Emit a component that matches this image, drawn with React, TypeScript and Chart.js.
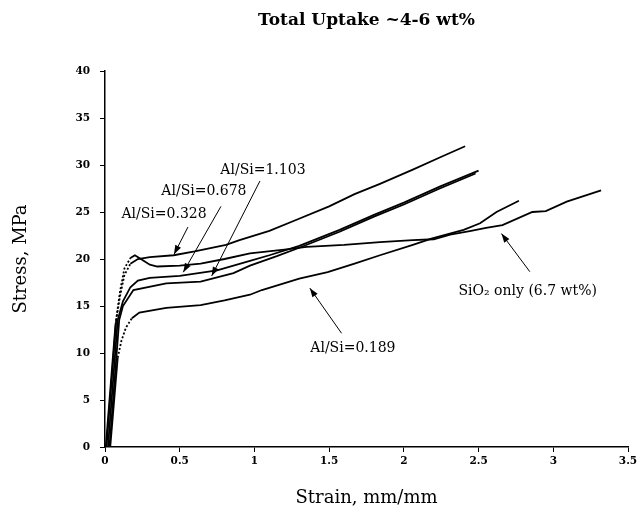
import React, { useEffect, useRef } from "react";
import { Chart, registerables } from "chart.js";

Chart.register(...registerables);

// ---- data ----
const titleText = "Total Uptake ~4-6 wt%";
const xAxisTitle = "Strain, mm/mm";
const yAxisTitle = "Stress, MPa";

const xTickValues = [0, 0.5, 1, 1.5, 2, 2.5, 3, 3.5];
const yTickValues = [0, 5, 10, 15, 20, 25, 30, 35, 40];

const seriesNames = ["Al/Si=0.328", "Al/Si=0.678", "Al/Si=1.103", "Al/Si=0.189", "SiO₂ only (6.7 wt%)"];

const strainA0328 = [0.01, 0.075, 0.1, 0.13, 0.17, 0.22, 0.3, 0.46, 0.6, 0.81, 0.9, 1.1, 1.27, 1.5, 1.67, 1.84, 2.06, 2.24, 2.41];
const stressA0328 = [0, 13.5, 16.0, 18.3, 19.5, 20.0, 20.2, 20.4, 20.8, 21.5, 22.0, 23.0, 24.1, 25.6, 26.9, 28.0, 29.5, 30.8, 32.0];

const strainA0678 = [0.02, 0.085, 0.12, 0.17, 0.22, 0.3, 0.5, 0.75, 0.97, 1.1, 1.3, 1.57, 1.8, 2.0, 2.24, 2.5];
const stressA0678 = [0, 13.5, 15.5, 17.0, 17.7, 18.0, 18.2, 18.8, 19.8, 20.4, 21.4, 23.1, 24.7, 26.0, 27.7, 29.4];

const strainA1103 = [0.03, 0.095, 0.12, 0.19, 0.41, 0.64, 0.86, 0.97, 1.15, 1.3, 1.57, 1.8, 2.0, 2.24, 2.48];
const stressA1103 = [0, 13.5, 15.0, 16.7, 17.4, 17.6, 18.5, 19.3, 20.3, 21.2, 22.9, 24.5, 25.8, 27.5, 29.1];

const strainA0189 = [0.035, 0.085, 0.11, 0.14, 0.18, 0.23, 0.41, 0.64, 0.8, 0.97, 1.05, 1.3, 1.49, 1.67, 1.84, 2.06, 2.19, 2.4, 2.51, 2.62, 2.77];
const stressA0189 = [0, 9.5, 11.3, 12.7, 13.7, 14.3, 14.8, 15.1, 15.6, 16.2, 16.7, 17.9, 18.6, 19.5, 20.4, 21.5, 22.2, 23.1, 23.8, 25.0, 26.2];

const strainSiO2 = [0.005, 0.07, 0.1, 0.13, 0.17, 0.2, 0.24, 0.3, 0.35, 0.5, 0.64, 0.8, 0.97, 1.2, 1.35, 1.6, 1.84, 2.06, 2.2, 2.31, 2.45, 2.55, 2.66, 2.86, 2.95, 3.09, 3.32];
const stressSiO2 = [0, 13.0, 16.5, 19.0, 20.1, 20.4, 20.0, 19.4, 19.2, 19.3, 19.5, 20.0, 20.6, 21.0, 21.3, 21.5, 21.8, 22.0, 22.1, 22.6, 23.0, 23.3, 23.6, 25.0, 25.1, 26.1, 27.3];

// ---- annotations (text centre, arrow start, arrow tip in data units) ----
const notes = [
  { text: seriesNames[2], tx: 1.057, ty: 29.4, ax: 1.037, ay: 28.3, bx: 0.714, by: 18.2 },
  { text: seriesNames[1], tx: 0.662, ty: 27.2, ax: 0.776, ay: 25.6, bx: 0.524, by: 18.6 },
  { text: seriesNames[0], tx: 0.395, ty: 24.7, ax: 0.555, ay: 23.4, bx: 0.462, by: 20.5 },
  { text: seriesNames[3], tx: 1.659, ty: 10.5, ax: 1.583, ay: 12.1, bx: 1.371, by: 16.9 },
  { text: seriesNames[4], tx: 2.829, ty: 16.6, ax: 2.843, ay: 18.65, bx: 2.653, by: 22.7 },
];

const SERIF = "'DejaVu Serif', 'Liberation Serif', serif";

function pts(xs: number[], ys: number[]) {
  return xs.map((x, i) => ({ x, y: ys[i] }));
}

const notesPlugin = {
  id: "notes",
  afterDatasetsDraw(chart: any) {
    const { ctx, scales } = chart;
    const X = (v: number) => scales.x.getPixelForValue(v);
    const Y = (v: number) => scales.y.getPixelForValue(v);
    ctx.save();
    ctx.fillStyle = "#000";
    ctx.strokeStyle = "#000";
    ctx.font = `14px ${SERIF}`;
    ctx.textAlign = "center";
    ctx.textBaseline = "middle";
    for (const n of notes) {
      ctx.fillText(n.text, X(n.tx), Y(n.ty));
      const x1 = X(n.ax), y1 = Y(n.ay), x2 = X(n.bx), y2 = Y(n.by);
      ctx.lineWidth = 1;
      ctx.beginPath();
      ctx.moveTo(x1, y1);
      ctx.lineTo(x2, y2);
      ctx.stroke();
      const ang = Math.atan2(y2 - y1, x2 - x1);
      const L = 9, W = 3.2;
      ctx.beginPath();
      ctx.moveTo(x2, y2);
      ctx.lineTo(x2 - L * Math.cos(ang) + W * Math.sin(ang), y2 - L * Math.sin(ang) - W * Math.cos(ang));
      ctx.lineTo(x2 - L * Math.cos(ang) - W * Math.sin(ang), y2 - L * Math.sin(ang) + W * Math.cos(ang));
      ctx.closePath();
      ctx.fill();
    }
    ctx.restore();
  },
};

function dashBetween(a: number, b: number) {
  return {
    borderDash: (c: any) => (c.p0.parsed.x >= a && c.p1.parsed.x <= b ? [2, 2] : undefined),
  };
}

export default function App() {
  const ref = useRef<HTMLCanvasElement | null>(null);
  useEffect(() => {
    if (!ref.current) return;
    const line = (label: string, data: any[], seg?: any) => ({
      label,
      data,
      showLine: true,
      borderColor: "#000",
      backgroundColor: "#000",
      borderWidth: 1.8,
      pointRadius: 0,
      tension: 0,
      segment: seg,
    });
    const chart = new Chart(ref.current, {
      type: "scatter",
      data: {
        datasets: [
          line(seriesNames[0], pts(strainA0328, stressA0328), dashBetween(0.07, 0.18)),
          line(seriesNames[1], pts(strainA0678, stressA0678)),
          line(seriesNames[2], pts(strainA1103, stressA1103)),
          line(seriesNames[3], pts(strainA0189, stressA0189), dashBetween(0.08, 0.19)),
          line(seriesNames[4], pts(strainSiO2, stressSiO2), dashBetween(0.06, 0.18)),
        ],
      },
      options: {
        animation: false,
        responsive: true,
        maintainAspectRatio: false,
        layout: { padding: { left: 0, right: 15, top: 0, bottom: 0 } },
        plugins: {
          legend: { display: false },
          tooltip: { enabled: false },
          title: {
            display: true,
            text: titleText,
            color: "#000",
            fullSize: false,
            font: { family: SERIF, size: 17, weight: "bold", lineHeight: 1.2 },
            padding: { top: 10, bottom: 40.6 },
          },
        },
        scales: {
          x: {
            type: "linear",
            min: xTickValues[0],
            max: xTickValues[xTickValues.length - 1],
            afterBuildTicks: (s: any) => {
              s.ticks = xTickValues.map((v) => ({ value: v }));
            },
            afterFit: (s: any) => {
              s.height = 68;
            },
            ticks: {
              color: "#000",
              font: { family: SERIF, size: 10.5, weight: "bold" },
              padding: 3,
              maxRotation: 0,
              callback: (v: any) => String(v),
            },
            grid: { display: true, drawOnChartArea: false, drawTicks: true, tickLength: 5, color: "#000", lineWidth: 1 },
            border: { display: true, color: "#000", width: 1.5 },
            title: {
              display: true,
              text: xAxisTitle,
              color: "#000",
              font: { family: SERIF, size: 18, lineHeight: 1.2 },
              padding: { top: 0, bottom: 6 },
            },
          },
          y: {
            type: "linear",
            min: yTickValues[0],
            max: yTickValues[yTickValues.length - 1],
            afterBuildTicks: (s: any) => {
              s.ticks = yTickValues.map((v) => ({ value: v }));
            },
            afterFit: (s: any) => {
              s.width = 105;
            },
            ticks: {
              color: "#000",
              font: { family: SERIF, size: 10.5, weight: "bold" },
              padding: 10,
            },
            grid: { display: true, drawOnChartArea: false, drawTicks: true, tickLength: 5, color: "#000", lineWidth: 1 },
            border: { display: true, color: "#000", width: 1.5 },
            title: {
              display: true,
              text: yAxisTitle,
              color: "#000",
              font: { family: SERIF, size: 18, lineHeight: 1.2 },
              padding: { top: 11, bottom: 0 },
            },
          },
        },
      },
      plugins: [notesPlugin],
    } as any);
    return () => chart.destroy();
  }, []);
  return (
    <div style={{ position: "absolute", left: 0, top: 0, width: 643, height: 515, background: "#fff" }}>
      <canvas ref={ref} />
    </div>
  );
}
